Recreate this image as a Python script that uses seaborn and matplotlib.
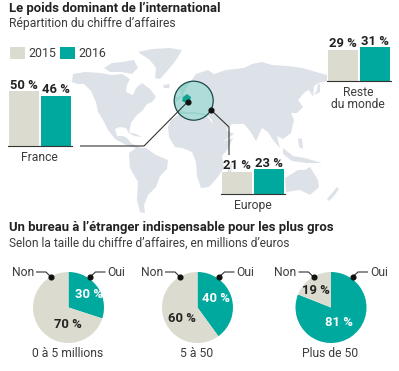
import matplotlib
matplotlib.use('Agg')
import matplotlib.pyplot as plt
from matplotlib.patches import Circle, Polygon, Rectangle
import pandas as pd
import seaborn as sns

W, H = 399, 371

# valeurs du graphique
annees = ['2015', '2016']
france = [50, 46]
europe = [21, 23]
reste = [29, 31]
tailles = ['0 à 5 millions', '5 à 50', 'Plus de 50']
oui = [30, 40, 81]
non = [70, 60, 19]

C_2015 = '#dcdbd0'
C_2016 = '#00a99d'
C_MAP = '#dde1e8'
C_TXT = '#222222'
C_SUB = '#3c3c3c'

# fond de carte, en pixels
amerique_nord = [(73, 74), (85, 72), (100, 73), (112, 75), (122, 74), (130, 79), (127, 85), (126, 92), (133, 95),
                 (136, 88), (142, 83), (150, 89), (156, 97), (152, 102), (147, 104), (143, 110), (136, 116),
                 (131, 123), (129, 133), (126, 128), (120, 127), (115, 129), (117, 136), (123, 136), (127, 138),
                 (131, 143), (141, 148), (136, 148), (126, 145), (115, 139), (108, 130), (103, 120), (98, 112),
                 (96, 102), (91, 91), (84, 84), (78, 84), (72, 82)]
arctique = [(104, 68), (112, 63), (122, 62), (134, 60), (138, 68), (132, 74), (122, 72), (110, 72)]
groenland = [(138, 52), (152, 49), (170, 48), (182, 50), (176, 60), (168, 70), (160, 79), (155, 78), (156, 68), (150, 60)]
cuba = [(128, 132), (136, 134), (142, 137), (134, 136)]
amerique_sud = [(129, 153), (136, 148), (146, 148), (156, 155), (168, 160), (167, 169), (160, 176), (156, 187),
                (148, 195), (144, 205), (145, 213), (140, 212), (137, 200), (138, 182), (130, 168)]
afrique = [(171, 120), (180, 114), (195, 114), (207, 116), (213, 124), (219, 135), (224, 141), (233, 138),
           (228, 149), (222, 156), (224, 168), (217, 178), (209, 187), (201, 188), (197, 176), (196, 162),
           (192, 152), (182, 148), (175, 147), (169, 137), (168, 127)]
eurasie = [(176, 110), (176, 102), (183, 97), (186, 88), (196, 74), (208, 70), (214, 74), (226, 70), (244, 68),
           (252, 64), (262, 62), (272, 65), (288, 66), (302, 68), (316, 72), (327, 75), (327, 81), (318, 83),
           (314, 86), (313, 97), (309, 90), (305, 92), (298, 100), (303, 107), (297, 113), (291, 113), (294, 120),
           (291, 133), (283, 139), (277, 136), (280, 148), (273, 140), (268, 132), (262, 128), (256, 141),
           (250, 131), (244, 124), (232, 124), (226, 130), (234, 134), (221, 143), (214, 133), (212, 120),
           (206, 114), (194, 112), (186, 112)]
japon = [(314, 95), (317, 90), (318, 83), (320, 85), (320, 92)]
indonesie = [(283, 148), (293, 156), (305, 158), (322, 163), (306, 163), (292, 161), (283, 154)]
philippines = [(298, 138), (302, 139), (303, 149), (299, 147)]
australie = [(285, 178), (298, 170), (305, 170), (310, 167), (318, 180), (319, 187), (310, 195), (300, 190), (286, 192)]
nouvelle_zelande = [(327, 199), (332, 193), (337, 187), (339, 189), (334, 196), (329, 201)]
madagascar = [(228, 167), (232, 163), (231, 174), (227, 176)]
uk = [(175, 92), (180, 90), (181, 96), (176, 97)]
islande = [(163, 85), (170, 84), (169, 88), (164, 88)]
terres = [amerique_nord, arctique, groenland, cuba, amerique_sud, afrique, eurasie, japon, indonesie, philippines,
          australie, nouvelle_zelande, madagascar, uk, islande]
france_carte = [(183, 97), (187, 94), (191, 97), (190, 101), (186, 103), (182, 101)]

plt.rcParams['font.family'] = ['Roboto', 'DejaVu Sans']
fig = plt.figure(figsize=(W / 100, H / 100), dpi=100, facecolor='white')


def px_axes(x0, y0, x1, y1, z=2):
    ax = fig.add_axes([x0 / W, 1 - y1 / H, (x1 - x0) / W, (y1 - y0) / H], zorder=z)
    ax.patch.set_alpha(0)
    return ax


# carte
fond = px_axes(0, 0, W, H, 0)
fond.set_xlim(0, W)
fond.set_ylim(H, 0)
fond.axis('off')
for t in terres:
    fond.add_patch(Polygon(t, closed=True, fc=C_MAP, ec='none'))
fond.add_patch(Circle((193.7, 100.7), 19.5, fc='#98d3cd', ec='none', zorder=3))
for t in [eurasie, afrique, uk]:
    p = Polygon(t, closed=True, fc='#aedcd8', ec='none', zorder=3.1)
    fond.add_patch(p)
    p.set_clip_path(Circle((193.7, 100.7), 19.5, transform=fond.transData))
fond.add_patch(Polygon(france_carte, closed=True, fc='#12a294', ec='none', zorder=3.2))
fond.add_patch(Circle((193.7, 100.7), 19.5, fc='none', ec='#1d4a47', lw=0.9, zorder=3.3))

# textes et traits par-dessus
sur = px_axes(0, 0, W, H, 5)
sur.set_xlim(0, W)
sur.set_ylim(H, 0)
sur.axis('off')


def txt(x, y, s, size=8.6, color=C_SUB, weight='normal', ha='left'):
    sur.text(x, y, s, fontsize=size, color=color, fontweight=weight, ha=ha, va='center')


def trait(pts, dot=True):
    xs, ys = zip(*pts)
    sur.plot(xs, ys, color='#333333', lw=0.8, solid_capstyle='butt')
    if dot:
        sur.plot(xs[0], ys[0], 'o', color='#111111', ms=3.4)


txt(9, 8.5, 'Le poids dominant de l’international', 9.45, C_TXT, 'bold')
txt(9, 23.5, 'Répartition du chiffre d’affaires', 8.7)
txt(9, 227.5, 'Un bureau à l’étranger indispensable pour les plus gros', 9.45, C_TXT, 'bold')
txt(9, 243.5, 'Selon la taille du chiffre d’affaires, en millions d’euros', 8.6)

sur.add_patch(Rectangle((10, 47), 15, 12, fc=C_2015, ec='none'))
sur.add_patch(Rectangle((60, 47), 15, 12, fc=C_2016, ec='none'))
txt(28, 53.5, annees[0], 8.9)
txt(78, 53.5, annees[1], 8.9)

trait([(187.5, 102), (144, 146), (80, 146)])
trait([(211, 110), (229, 127), (229, 155)])


# barres
def barres(x0, base, valeurs):
    ax = px_axes(x0, base - 66, x0 + 64, base + 1)
    d = pd.DataFrame({'annee': annees, 'part': valeurs})
    sns.barplot(data=d, x='annee', y='part', hue='annee', palette=[C_2015, C_2016], width=0.94,
                legend=False, ax=ax, saturation=1)
    ax.set_ylim(0, 60)
    ax.set_xlim(-0.5, 1.5)
    ax.axis('off')
    for c, v in zip(ax.containers, valeurs):
        ax.bar_label(c, labels=[f'{v} %'], padding=-0.5, fontsize=9.4, fontweight='bold', color=C_TXT)
    sur.plot([x0, x0 + 64], [base, base], color='#333333', lw=0.8)


barres(8, 146, france)
barres(221, 194, europe)
barres(327, 81, reste)
txt(39.5, 157.5, 'France', 8.7, ha='center')
txt(253, 205.5, 'Europe', 8.7, ha='center')
txt(358, 92.5, 'Reste', 8.7, ha='center')
txt(358, 104.5, 'du monde', 8.7, ha='center')

# camemberts
centres = [(68.5, 307.5), (197.5, 307.5), (331, 307.5)]
etiquettes_oui = [(89, 294), (216, 299), (339, 323)]
etiquettes_non = [(68, 324), (182, 318), (316, 290)]
for i, (cx, cy) in enumerate(centres):
    ax = px_axes(cx - 35.5, cy - 35.5, cx + 35.5, cy + 35.5)
    ax.pie([oui[i], non[i]], colors=[C_2016, C_2015], startangle=90, counterclock=False, radius=1,
           wedgeprops={'linewidth': 0})
    ax.set_xlim(-1, 1)
    ax.set_ylim(-1, 1)
    ox, oy = etiquettes_oui[i]
    nx, ny = etiquettes_non[i]
    sur.text(ox, oy, f'{oui[i]} %', fontsize=9.4, fontweight='bold', color='white', ha='center', va='center')
    sur.text(nx, ny, f'{non[i]} %', fontsize=9.4, fontweight='bold', color=C_TXT, ha='center', va='center')
    txt(cx - 1, 353.5, tailles[i], 8.7, ha='center')
    trait([(cx - 17.5, 277), (cx - 22.5, 272), (cx - 32.5, 272)])
    trait([(cx + 21.5, 277), (cx + 27, 272), (cx + 37, 272)])
    txt(cx - 34.5, 272.5, 'Non', 8.7, ha='right')
    txt(cx + 39, 272.5, 'Oui', 8.7)

fig.savefig('out.png', dpi=100)
